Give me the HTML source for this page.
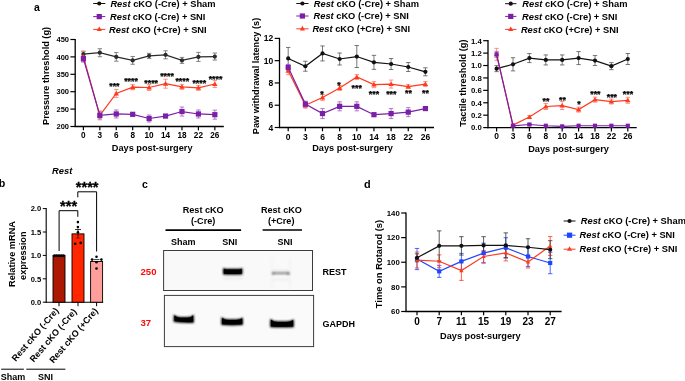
<!DOCTYPE html>
<html><head><meta charset="utf-8"><style>
html,body{margin:0;padding:0;background:#fff;width:685px;height:381px;overflow:hidden;position:relative}
svg text{font-family:"Liberation Sans", sans-serif}
svg{will-change:transform}
</style></head><body>
<svg width="685" height="381" viewBox="0 0 685 381" style="position:absolute;left:0;top:0">
<g font-family='"Liberation Sans", sans-serif'>
<text x="34.00" y="11.30" font-size="10.5" text-anchor="start" font-weight="bold" fill="#000">a</text>
<line x1="75.20" y1="38.90" x2="75.20" y2="127.10" stroke="#000" stroke-width="1.3"/>
<line x1="74.60" y1="126.50" x2="223.80" y2="126.50" stroke="#000" stroke-width="1.3"/>
<line x1="70.40" y1="126.50" x2="75.20" y2="126.50" stroke="#000" stroke-width="1.2"/>
<text x="69.00" y="129.20" font-size="7.5" text-anchor="end" font-weight="bold" fill="#000">200</text>
<line x1="70.40" y1="109.10" x2="75.20" y2="109.10" stroke="#000" stroke-width="1.2"/>
<text x="69.00" y="111.80" font-size="7.5" text-anchor="end" font-weight="bold" fill="#000">250</text>
<line x1="70.40" y1="91.70" x2="75.20" y2="91.70" stroke="#000" stroke-width="1.2"/>
<text x="69.00" y="94.40" font-size="7.5" text-anchor="end" font-weight="bold" fill="#000">300</text>
<line x1="70.40" y1="74.30" x2="75.20" y2="74.30" stroke="#000" stroke-width="1.2"/>
<text x="69.00" y="77.00" font-size="7.5" text-anchor="end" font-weight="bold" fill="#000">350</text>
<line x1="70.40" y1="56.90" x2="75.20" y2="56.90" stroke="#000" stroke-width="1.2"/>
<text x="69.00" y="59.60" font-size="7.5" text-anchor="end" font-weight="bold" fill="#000">400</text>
<line x1="70.40" y1="39.50" x2="75.20" y2="39.50" stroke="#000" stroke-width="1.2"/>
<text x="69.00" y="42.20" font-size="7.5" text-anchor="end" font-weight="bold" fill="#000">450</text>
<line x1="83.40" y1="126.50" x2="83.40" y2="130.30" stroke="#000" stroke-width="1.2"/>
<text x="83.40" y="138.05" font-size="8.2" text-anchor="middle" font-weight="bold" fill="#000">0</text>
<line x1="99.83" y1="126.50" x2="99.83" y2="130.30" stroke="#000" stroke-width="1.2"/>
<text x="99.83" y="138.05" font-size="8.2" text-anchor="middle" font-weight="bold" fill="#000">3</text>
<line x1="116.26" y1="126.50" x2="116.26" y2="130.30" stroke="#000" stroke-width="1.2"/>
<text x="116.26" y="138.05" font-size="8.2" text-anchor="middle" font-weight="bold" fill="#000">6</text>
<line x1="132.69" y1="126.50" x2="132.69" y2="130.30" stroke="#000" stroke-width="1.2"/>
<text x="132.69" y="138.05" font-size="8.2" text-anchor="middle" font-weight="bold" fill="#000">8</text>
<line x1="149.12" y1="126.50" x2="149.12" y2="130.30" stroke="#000" stroke-width="1.2"/>
<text x="149.12" y="138.05" font-size="8.2" text-anchor="middle" font-weight="bold" fill="#000">10</text>
<line x1="165.55" y1="126.50" x2="165.55" y2="130.30" stroke="#000" stroke-width="1.2"/>
<text x="165.55" y="138.05" font-size="8.2" text-anchor="middle" font-weight="bold" fill="#000">14</text>
<line x1="181.98" y1="126.50" x2="181.98" y2="130.30" stroke="#000" stroke-width="1.2"/>
<text x="181.98" y="138.05" font-size="8.2" text-anchor="middle" font-weight="bold" fill="#000">18</text>
<line x1="198.41" y1="126.50" x2="198.41" y2="130.30" stroke="#000" stroke-width="1.2"/>
<text x="198.41" y="138.05" font-size="8.2" text-anchor="middle" font-weight="bold" fill="#000">22</text>
<line x1="214.84" y1="126.50" x2="214.84" y2="130.30" stroke="#000" stroke-width="1.2"/>
<text x="214.84" y="138.05" font-size="8.2" text-anchor="middle" font-weight="bold" fill="#000">26</text>
<line x1="83.40" y1="51.12" x2="83.40" y2="57.12" stroke="#666" stroke-width="0.8"/>
<line x1="81.20" y1="51.12" x2="85.60" y2="51.12" stroke="#666" stroke-width="0.8"/>
<line x1="81.20" y1="57.12" x2="85.60" y2="57.12" stroke="#666" stroke-width="0.8"/>
<line x1="99.83" y1="48.72" x2="99.83" y2="56.72" stroke="#666" stroke-width="0.8"/>
<line x1="97.63" y1="48.72" x2="102.03" y2="48.72" stroke="#666" stroke-width="0.8"/>
<line x1="97.63" y1="56.72" x2="102.03" y2="56.72" stroke="#666" stroke-width="0.8"/>
<line x1="116.26" y1="52.60" x2="116.26" y2="61.20" stroke="#666" stroke-width="0.8"/>
<line x1="114.06" y1="52.60" x2="118.46" y2="52.60" stroke="#666" stroke-width="0.8"/>
<line x1="114.06" y1="61.20" x2="118.46" y2="61.20" stroke="#666" stroke-width="0.8"/>
<line x1="132.69" y1="56.48" x2="132.69" y2="64.28" stroke="#666" stroke-width="0.8"/>
<line x1="130.49" y1="56.48" x2="134.89" y2="56.48" stroke="#666" stroke-width="0.8"/>
<line x1="130.49" y1="64.28" x2="134.89" y2="64.28" stroke="#666" stroke-width="0.8"/>
<line x1="149.12" y1="53.36" x2="149.12" y2="58.36" stroke="#666" stroke-width="0.8"/>
<line x1="146.92" y1="53.36" x2="151.32" y2="53.36" stroke="#666" stroke-width="0.8"/>
<line x1="146.92" y1="58.36" x2="151.32" y2="58.36" stroke="#666" stroke-width="0.8"/>
<line x1="165.55" y1="50.81" x2="165.55" y2="58.81" stroke="#666" stroke-width="0.8"/>
<line x1="163.35" y1="50.81" x2="167.75" y2="50.81" stroke="#666" stroke-width="0.8"/>
<line x1="163.35" y1="58.81" x2="167.75" y2="58.81" stroke="#666" stroke-width="0.8"/>
<line x1="181.98" y1="57.38" x2="181.98" y2="63.38" stroke="#666" stroke-width="0.8"/>
<line x1="179.78" y1="57.38" x2="184.18" y2="57.38" stroke="#666" stroke-width="0.8"/>
<line x1="179.78" y1="63.38" x2="184.18" y2="63.38" stroke="#666" stroke-width="0.8"/>
<line x1="198.41" y1="52.40" x2="198.41" y2="61.40" stroke="#666" stroke-width="0.8"/>
<line x1="196.21" y1="52.40" x2="200.61" y2="52.40" stroke="#666" stroke-width="0.8"/>
<line x1="196.21" y1="61.40" x2="200.61" y2="61.40" stroke="#666" stroke-width="0.8"/>
<line x1="214.84" y1="53.05" x2="214.84" y2="60.05" stroke="#666" stroke-width="0.8"/>
<line x1="212.64" y1="53.05" x2="217.04" y2="53.05" stroke="#666" stroke-width="0.8"/>
<line x1="212.64" y1="60.05" x2="217.04" y2="60.05" stroke="#666" stroke-width="0.8"/>
<line x1="83.40" y1="51.55" x2="83.40" y2="61.55" stroke="#ff7a66" stroke-width="0.8"/>
<line x1="81.20" y1="51.55" x2="85.60" y2="51.55" stroke="#ff7a66" stroke-width="0.8"/>
<line x1="81.20" y1="61.55" x2="85.60" y2="61.55" stroke="#ff7a66" stroke-width="0.8"/>
<line x1="99.83" y1="110.86" x2="99.83" y2="119.86" stroke="#ff7a66" stroke-width="0.8"/>
<line x1="97.63" y1="110.86" x2="102.03" y2="110.86" stroke="#ff7a66" stroke-width="0.8"/>
<line x1="97.63" y1="119.86" x2="102.03" y2="119.86" stroke="#ff7a66" stroke-width="0.8"/>
<line x1="116.26" y1="89.44" x2="116.26" y2="97.44" stroke="#ff7a66" stroke-width="0.8"/>
<line x1="114.06" y1="89.44" x2="118.46" y2="89.44" stroke="#ff7a66" stroke-width="0.8"/>
<line x1="114.06" y1="97.44" x2="118.46" y2="97.44" stroke="#ff7a66" stroke-width="0.8"/>
<line x1="132.69" y1="84.68" x2="132.69" y2="89.68" stroke="#ff7a66" stroke-width="0.8"/>
<line x1="130.49" y1="84.68" x2="134.89" y2="84.68" stroke="#ff7a66" stroke-width="0.8"/>
<line x1="130.49" y1="89.68" x2="134.89" y2="89.68" stroke="#ff7a66" stroke-width="0.8"/>
<line x1="149.12" y1="84.52" x2="149.12" y2="90.52" stroke="#ff7a66" stroke-width="0.8"/>
<line x1="146.92" y1="84.52" x2="151.32" y2="84.52" stroke="#ff7a66" stroke-width="0.8"/>
<line x1="146.92" y1="90.52" x2="151.32" y2="90.52" stroke="#ff7a66" stroke-width="0.8"/>
<line x1="165.55" y1="79.20" x2="165.55" y2="88.20" stroke="#ff7a66" stroke-width="0.8"/>
<line x1="163.35" y1="79.20" x2="167.75" y2="79.20" stroke="#ff7a66" stroke-width="0.8"/>
<line x1="163.35" y1="88.20" x2="167.75" y2="88.20" stroke="#ff7a66" stroke-width="0.8"/>
<line x1="181.98" y1="84.33" x2="181.98" y2="89.33" stroke="#ff7a66" stroke-width="0.8"/>
<line x1="179.78" y1="84.33" x2="184.18" y2="84.33" stroke="#ff7a66" stroke-width="0.8"/>
<line x1="179.78" y1="89.33" x2="184.18" y2="89.33" stroke="#ff7a66" stroke-width="0.8"/>
<line x1="198.41" y1="85.37" x2="198.41" y2="90.37" stroke="#ff7a66" stroke-width="0.8"/>
<line x1="196.21" y1="85.37" x2="200.61" y2="85.37" stroke="#ff7a66" stroke-width="0.8"/>
<line x1="196.21" y1="90.37" x2="200.61" y2="90.37" stroke="#ff7a66" stroke-width="0.8"/>
<line x1="214.84" y1="80.54" x2="214.84" y2="87.54" stroke="#ff7a66" stroke-width="0.8"/>
<line x1="212.64" y1="80.54" x2="217.04" y2="80.54" stroke="#ff7a66" stroke-width="0.8"/>
<line x1="212.64" y1="87.54" x2="217.04" y2="87.54" stroke="#ff7a66" stroke-width="0.8"/>
<line x1="83.40" y1="55.14" x2="83.40" y2="62.14" stroke="#9a5cc0" stroke-width="0.8"/>
<line x1="81.20" y1="55.14" x2="85.60" y2="55.14" stroke="#9a5cc0" stroke-width="0.8"/>
<line x1="81.20" y1="62.14" x2="85.60" y2="62.14" stroke="#9a5cc0" stroke-width="0.8"/>
<line x1="99.83" y1="111.86" x2="99.83" y2="118.86" stroke="#9a5cc0" stroke-width="0.8"/>
<line x1="97.63" y1="111.86" x2="102.03" y2="111.86" stroke="#9a5cc0" stroke-width="0.8"/>
<line x1="97.63" y1="118.86" x2="102.03" y2="118.86" stroke="#9a5cc0" stroke-width="0.8"/>
<line x1="116.26" y1="109.97" x2="116.26" y2="117.97" stroke="#9a5cc0" stroke-width="0.8"/>
<line x1="114.06" y1="109.97" x2="118.46" y2="109.97" stroke="#9a5cc0" stroke-width="0.8"/>
<line x1="114.06" y1="117.97" x2="118.46" y2="117.97" stroke="#9a5cc0" stroke-width="0.8"/>
<line x1="132.69" y1="112.82" x2="132.69" y2="115.82" stroke="#9a5cc0" stroke-width="0.8"/>
<line x1="130.49" y1="112.82" x2="134.89" y2="112.82" stroke="#9a5cc0" stroke-width="0.8"/>
<line x1="130.49" y1="115.82" x2="134.89" y2="115.82" stroke="#9a5cc0" stroke-width="0.8"/>
<line x1="149.12" y1="115.00" x2="149.12" y2="122.00" stroke="#9a5cc0" stroke-width="0.8"/>
<line x1="146.92" y1="115.00" x2="151.32" y2="115.00" stroke="#9a5cc0" stroke-width="0.8"/>
<line x1="146.92" y1="122.00" x2="151.32" y2="122.00" stroke="#9a5cc0" stroke-width="0.8"/>
<line x1="165.55" y1="114.56" x2="165.55" y2="117.56" stroke="#9a5cc0" stroke-width="0.8"/>
<line x1="163.35" y1="114.56" x2="167.75" y2="114.56" stroke="#9a5cc0" stroke-width="0.8"/>
<line x1="163.35" y1="117.56" x2="167.75" y2="117.56" stroke="#9a5cc0" stroke-width="0.8"/>
<line x1="181.98" y1="107.04" x2="181.98" y2="116.04" stroke="#9a5cc0" stroke-width="0.8"/>
<line x1="179.78" y1="107.04" x2="184.18" y2="107.04" stroke="#9a5cc0" stroke-width="0.8"/>
<line x1="179.78" y1="116.04" x2="184.18" y2="116.04" stroke="#9a5cc0" stroke-width="0.8"/>
<line x1="198.41" y1="109.97" x2="198.41" y2="117.97" stroke="#9a5cc0" stroke-width="0.8"/>
<line x1="196.21" y1="109.97" x2="200.61" y2="109.97" stroke="#9a5cc0" stroke-width="0.8"/>
<line x1="196.21" y1="117.97" x2="200.61" y2="117.97" stroke="#9a5cc0" stroke-width="0.8"/>
<line x1="214.84" y1="110.17" x2="214.84" y2="119.17" stroke="#9a5cc0" stroke-width="0.8"/>
<line x1="212.64" y1="110.17" x2="217.04" y2="110.17" stroke="#9a5cc0" stroke-width="0.8"/>
<line x1="212.64" y1="119.17" x2="217.04" y2="119.17" stroke="#9a5cc0" stroke-width="0.8"/>
<polyline points="83.40,54.12 99.83,52.72 116.26,56.90 132.69,60.38 149.12,55.86 165.55,54.81 181.98,60.38 198.41,56.90 214.84,56.55" fill="none" stroke="#2b2b2b" stroke-width="1.2"/>
<circle cx="83.40" cy="54.12" r="2.10" fill="#2b2b2b"/>
<circle cx="99.83" cy="52.72" r="2.10" fill="#2b2b2b"/>
<circle cx="116.26" cy="56.90" r="2.10" fill="#2b2b2b"/>
<circle cx="132.69" cy="60.38" r="2.10" fill="#2b2b2b"/>
<circle cx="149.12" cy="55.86" r="2.10" fill="#2b2b2b"/>
<circle cx="165.55" cy="54.81" r="2.10" fill="#2b2b2b"/>
<circle cx="181.98" cy="60.38" r="2.10" fill="#2b2b2b"/>
<circle cx="198.41" cy="56.90" r="2.10" fill="#2b2b2b"/>
<circle cx="214.84" cy="56.55" r="2.10" fill="#2b2b2b"/>
<polyline points="83.40,56.55 99.83,115.36 116.26,93.44 132.69,87.18 149.12,87.52 165.55,83.70 181.98,86.83 198.41,87.87 214.84,84.04" fill="none" stroke="#FF3A1E" stroke-width="1.2"/>
<polygon points="83.40,53.95 86.13,58.50 80.67,58.50" fill="#FF3A1E"/>
<polygon points="99.83,112.76 102.56,117.31 97.10,117.31" fill="#FF3A1E"/>
<polygon points="116.26,90.84 118.99,95.39 113.53,95.39" fill="#FF3A1E"/>
<polygon points="132.69,84.58 135.42,89.13 129.96,89.13" fill="#FF3A1E"/>
<polygon points="149.12,84.92 151.85,89.47 146.39,89.47" fill="#FF3A1E"/>
<polygon points="165.55,81.10 168.28,85.65 162.82,85.65" fill="#FF3A1E"/>
<polygon points="181.98,84.23 184.71,88.78 179.25,88.78" fill="#FF3A1E"/>
<polygon points="198.41,85.27 201.14,89.82 195.68,89.82" fill="#FF3A1E"/>
<polygon points="214.84,81.44 217.57,85.99 212.11,85.99" fill="#FF3A1E"/>
<polyline points="83.40,58.64 99.83,115.36 116.26,113.97 132.69,114.32 149.12,118.50 165.55,116.06 181.98,111.54 198.41,113.97 214.84,114.67" fill="none" stroke="#7B1FA8" stroke-width="1.2"/>
<rect x="80.80" y="56.04" width="5.20" height="5.20" fill="#7B1FA8"/>
<rect x="97.23" y="112.76" width="5.20" height="5.20" fill="#7B1FA8"/>
<rect x="113.66" y="111.37" width="5.20" height="5.20" fill="#7B1FA8"/>
<rect x="130.09" y="111.72" width="5.20" height="5.20" fill="#7B1FA8"/>
<rect x="146.52" y="115.90" width="5.20" height="5.20" fill="#7B1FA8"/>
<rect x="162.95" y="113.46" width="5.20" height="5.20" fill="#7B1FA8"/>
<rect x="179.38" y="108.94" width="5.20" height="5.20" fill="#7B1FA8"/>
<rect x="195.81" y="111.37" width="5.20" height="5.20" fill="#7B1FA8"/>
<rect x="212.24" y="112.07" width="5.20" height="5.20" fill="#7B1FA8"/>
<text x="49.50" y="75.90" font-size="9.2" text-anchor="middle" font-weight="bold" fill="#000" transform="rotate(-90 49.5 75.9)">Pressure threshold (g)</text>
<text x="152.20" y="151.01" font-size="9.2" text-anchor="middle" font-weight="bold" fill="#000">Days post-surgery</text>
<line x1="93.20" y1="3.50" x2="105.30" y2="3.50" stroke="#111" stroke-width="1.0"/>
<circle cx="99.25" cy="3.50" r="2.10" fill="#111"/>
<text x="110.40" y="6.70" font-size="9.3" text-anchor="start" font-weight="bold" fill="#000"><tspan font-style="italic">Rest</tspan> cKO (-Cre) + Sham</text>
<line x1="93.20" y1="16.60" x2="105.30" y2="16.60" stroke="#7B1FA8" stroke-width="1.0"/>
<rect x="96.65" y="14.00" width="5.20" height="5.20" fill="#7B1FA8"/>
<text x="110.10" y="19.80" font-size="9.3" text-anchor="start" font-weight="bold" fill="#000"><tspan font-style="italic">Rest</tspan> cKO (-Cre) + SNI</text>
<line x1="93.20" y1="29.40" x2="105.30" y2="29.40" stroke="#FF3A1E" stroke-width="1.0"/>
<polygon points="99.25,26.40 101.85,31.00 96.65,31.00" fill="#FF3A1E"/>
<text x="109.00" y="32.60" font-size="9.3" text-anchor="start" font-weight="bold" fill="#000"><tspan font-style="italic">Rest</tspan> cKO (+Cre) + SNI</text>
<text x="114.40" y="89.20" font-size="8.8" text-anchor="middle" font-weight="bold" fill="#000" stroke="#000" stroke-width="0.25">***</text>
<text x="131.00" y="83.70" font-size="8.8" text-anchor="middle" font-weight="bold" fill="#000" stroke="#000" stroke-width="0.25">****</text>
<text x="151.20" y="85.90" font-size="8.8" text-anchor="middle" font-weight="bold" fill="#000" stroke="#000" stroke-width="0.25">****</text>
<text x="167.00" y="78.50" font-size="8.8" text-anchor="middle" font-weight="bold" fill="#000" stroke="#000" stroke-width="0.25">****</text>
<text x="182.30" y="83.80" font-size="8.8" text-anchor="middle" font-weight="bold" fill="#000" stroke="#000" stroke-width="0.25">****</text>
<text x="199.30" y="85.90" font-size="8.8" text-anchor="middle" font-weight="bold" fill="#000" stroke="#000" stroke-width="0.25">****</text>
<text x="215.50" y="81.70" font-size="8.8" text-anchor="middle" font-weight="bold" fill="#000" stroke="#000" stroke-width="0.25">****</text>
<line x1="279.50" y1="37.80" x2="279.50" y2="128.10" stroke="#000" stroke-width="1.3"/>
<line x1="278.90" y1="127.50" x2="434.00" y2="127.50" stroke="#000" stroke-width="1.3"/>
<line x1="274.70" y1="127.50" x2="279.50" y2="127.50" stroke="#000" stroke-width="1.2"/>
<text x="273.30" y="130.56" font-size="8.5" text-anchor="end" font-weight="bold" fill="#000">4</text>
<line x1="274.70" y1="105.22" x2="279.50" y2="105.22" stroke="#000" stroke-width="1.2"/>
<text x="273.30" y="108.28" font-size="8.5" text-anchor="end" font-weight="bold" fill="#000">6</text>
<line x1="274.70" y1="82.95" x2="279.50" y2="82.95" stroke="#000" stroke-width="1.2"/>
<text x="273.30" y="86.01" font-size="8.5" text-anchor="end" font-weight="bold" fill="#000">8</text>
<line x1="274.70" y1="60.67" x2="279.50" y2="60.67" stroke="#000" stroke-width="1.2"/>
<text x="273.30" y="63.73" font-size="8.5" text-anchor="end" font-weight="bold" fill="#000">10</text>
<line x1="274.70" y1="38.40" x2="279.50" y2="38.40" stroke="#000" stroke-width="1.2"/>
<text x="273.30" y="41.46" font-size="8.5" text-anchor="end" font-weight="bold" fill="#000">12</text>
<line x1="288.20" y1="127.50" x2="288.20" y2="131.30" stroke="#000" stroke-width="1.2"/>
<text x="288.20" y="139.96" font-size="8.5" text-anchor="middle" font-weight="bold" fill="#000">0</text>
<line x1="305.35" y1="127.50" x2="305.35" y2="131.30" stroke="#000" stroke-width="1.2"/>
<text x="305.35" y="139.96" font-size="8.5" text-anchor="middle" font-weight="bold" fill="#000">3</text>
<line x1="322.50" y1="127.50" x2="322.50" y2="131.30" stroke="#000" stroke-width="1.2"/>
<text x="322.50" y="139.96" font-size="8.5" text-anchor="middle" font-weight="bold" fill="#000">6</text>
<line x1="339.65" y1="127.50" x2="339.65" y2="131.30" stroke="#000" stroke-width="1.2"/>
<text x="339.65" y="139.96" font-size="8.5" text-anchor="middle" font-weight="bold" fill="#000">8</text>
<line x1="356.80" y1="127.50" x2="356.80" y2="131.30" stroke="#000" stroke-width="1.2"/>
<text x="356.80" y="139.96" font-size="8.5" text-anchor="middle" font-weight="bold" fill="#000">10</text>
<line x1="373.95" y1="127.50" x2="373.95" y2="131.30" stroke="#000" stroke-width="1.2"/>
<text x="373.95" y="139.96" font-size="8.5" text-anchor="middle" font-weight="bold" fill="#000">14</text>
<line x1="391.10" y1="127.50" x2="391.10" y2="131.30" stroke="#000" stroke-width="1.2"/>
<text x="391.10" y="139.96" font-size="8.5" text-anchor="middle" font-weight="bold" fill="#000">18</text>
<line x1="408.25" y1="127.50" x2="408.25" y2="131.30" stroke="#000" stroke-width="1.2"/>
<text x="408.25" y="139.96" font-size="8.5" text-anchor="middle" font-weight="bold" fill="#000">22</text>
<line x1="425.40" y1="127.50" x2="425.40" y2="131.30" stroke="#000" stroke-width="1.2"/>
<text x="425.40" y="139.96" font-size="8.5" text-anchor="middle" font-weight="bold" fill="#000">26</text>
<line x1="288.20" y1="47.45" x2="288.20" y2="69.45" stroke="#555" stroke-width="0.8"/>
<line x1="286.00" y1="47.45" x2="290.40" y2="47.45" stroke="#555" stroke-width="0.8"/>
<line x1="286.00" y1="69.45" x2="290.40" y2="69.45" stroke="#555" stroke-width="0.8"/>
<line x1="305.35" y1="61.24" x2="305.35" y2="71.24" stroke="#555" stroke-width="0.8"/>
<line x1="303.15" y1="61.24" x2="307.55" y2="61.24" stroke="#555" stroke-width="0.8"/>
<line x1="303.15" y1="71.24" x2="307.55" y2="71.24" stroke="#555" stroke-width="0.8"/>
<line x1="322.50" y1="45.94" x2="322.50" y2="60.94" stroke="#555" stroke-width="0.8"/>
<line x1="320.30" y1="45.94" x2="324.70" y2="45.94" stroke="#555" stroke-width="0.8"/>
<line x1="320.30" y1="60.94" x2="324.70" y2="60.94" stroke="#555" stroke-width="0.8"/>
<line x1="339.65" y1="53.00" x2="339.65" y2="65.00" stroke="#555" stroke-width="0.8"/>
<line x1="337.45" y1="53.00" x2="341.85" y2="53.00" stroke="#555" stroke-width="0.8"/>
<line x1="337.45" y1="65.00" x2="341.85" y2="65.00" stroke="#555" stroke-width="0.8"/>
<line x1="356.80" y1="45.55" x2="356.80" y2="67.55" stroke="#555" stroke-width="0.8"/>
<line x1="354.60" y1="45.55" x2="359.00" y2="45.55" stroke="#555" stroke-width="0.8"/>
<line x1="354.60" y1="67.55" x2="359.00" y2="67.55" stroke="#555" stroke-width="0.8"/>
<line x1="373.95" y1="55.35" x2="373.95" y2="69.35" stroke="#555" stroke-width="0.8"/>
<line x1="371.75" y1="55.35" x2="376.15" y2="55.35" stroke="#555" stroke-width="0.8"/>
<line x1="371.75" y1="69.35" x2="376.15" y2="69.35" stroke="#555" stroke-width="0.8"/>
<line x1="391.10" y1="58.52" x2="391.10" y2="69.52" stroke="#555" stroke-width="0.8"/>
<line x1="388.90" y1="58.52" x2="393.30" y2="58.52" stroke="#555" stroke-width="0.8"/>
<line x1="388.90" y1="69.52" x2="393.30" y2="69.52" stroke="#555" stroke-width="0.8"/>
<line x1="408.25" y1="62.52" x2="408.25" y2="71.52" stroke="#555" stroke-width="0.8"/>
<line x1="406.05" y1="62.52" x2="410.45" y2="62.52" stroke="#555" stroke-width="0.8"/>
<line x1="406.05" y1="71.52" x2="410.45" y2="71.52" stroke="#555" stroke-width="0.8"/>
<line x1="425.40" y1="67.81" x2="425.40" y2="75.81" stroke="#555" stroke-width="0.8"/>
<line x1="423.20" y1="67.81" x2="427.60" y2="67.81" stroke="#555" stroke-width="0.8"/>
<line x1="423.20" y1="75.81" x2="427.60" y2="75.81" stroke="#555" stroke-width="0.8"/>
<line x1="288.20" y1="66.70" x2="288.20" y2="74.70" stroke="#ff7a66" stroke-width="0.8"/>
<line x1="286.00" y1="66.70" x2="290.40" y2="66.70" stroke="#ff7a66" stroke-width="0.8"/>
<line x1="286.00" y1="74.70" x2="290.40" y2="74.70" stroke="#ff7a66" stroke-width="0.8"/>
<line x1="305.35" y1="102.22" x2="305.35" y2="108.22" stroke="#ff7a66" stroke-width="0.8"/>
<line x1="303.15" y1="102.22" x2="307.55" y2="102.22" stroke="#ff7a66" stroke-width="0.8"/>
<line x1="303.15" y1="108.22" x2="307.55" y2="108.22" stroke="#ff7a66" stroke-width="0.8"/>
<line x1="322.50" y1="94.43" x2="322.50" y2="100.43" stroke="#ff7a66" stroke-width="0.8"/>
<line x1="320.30" y1="94.43" x2="324.70" y2="94.43" stroke="#ff7a66" stroke-width="0.8"/>
<line x1="320.30" y1="100.43" x2="324.70" y2="100.43" stroke="#ff7a66" stroke-width="0.8"/>
<line x1="339.65" y1="85.46" x2="339.65" y2="90.46" stroke="#ff7a66" stroke-width="0.8"/>
<line x1="337.45" y1="85.46" x2="341.85" y2="85.46" stroke="#ff7a66" stroke-width="0.8"/>
<line x1="337.45" y1="90.46" x2="341.85" y2="90.46" stroke="#ff7a66" stroke-width="0.8"/>
<line x1="356.80" y1="74.55" x2="356.80" y2="79.55" stroke="#ff7a66" stroke-width="0.8"/>
<line x1="354.60" y1="74.55" x2="359.00" y2="74.55" stroke="#ff7a66" stroke-width="0.8"/>
<line x1="354.60" y1="79.55" x2="359.00" y2="79.55" stroke="#ff7a66" stroke-width="0.8"/>
<line x1="373.95" y1="81.62" x2="373.95" y2="87.62" stroke="#ff7a66" stroke-width="0.8"/>
<line x1="371.75" y1="81.62" x2="376.15" y2="81.62" stroke="#ff7a66" stroke-width="0.8"/>
<line x1="371.75" y1="87.62" x2="376.15" y2="87.62" stroke="#ff7a66" stroke-width="0.8"/>
<line x1="391.10" y1="80.06" x2="391.10" y2="88.06" stroke="#ff7a66" stroke-width="0.8"/>
<line x1="388.90" y1="80.06" x2="393.30" y2="80.06" stroke="#ff7a66" stroke-width="0.8"/>
<line x1="388.90" y1="88.06" x2="393.30" y2="88.06" stroke="#ff7a66" stroke-width="0.8"/>
<line x1="408.25" y1="84.63" x2="408.25" y2="88.63" stroke="#ff7a66" stroke-width="0.8"/>
<line x1="406.05" y1="84.63" x2="410.45" y2="84.63" stroke="#ff7a66" stroke-width="0.8"/>
<line x1="406.05" y1="88.63" x2="410.45" y2="88.63" stroke="#ff7a66" stroke-width="0.8"/>
<line x1="425.40" y1="81.56" x2="425.40" y2="86.56" stroke="#ff7a66" stroke-width="0.8"/>
<line x1="423.20" y1="81.56" x2="427.60" y2="81.56" stroke="#ff7a66" stroke-width="0.8"/>
<line x1="423.20" y1="86.56" x2="427.60" y2="86.56" stroke="#ff7a66" stroke-width="0.8"/>
<line x1="288.20" y1="64.36" x2="288.20" y2="70.36" stroke="#9a5cc0" stroke-width="0.8"/>
<line x1="286.00" y1="64.36" x2="290.40" y2="64.36" stroke="#9a5cc0" stroke-width="0.8"/>
<line x1="286.00" y1="70.36" x2="290.40" y2="70.36" stroke="#9a5cc0" stroke-width="0.8"/>
<line x1="305.35" y1="101.11" x2="305.35" y2="107.11" stroke="#9a5cc0" stroke-width="0.8"/>
<line x1="303.15" y1="101.11" x2="307.55" y2="101.11" stroke="#9a5cc0" stroke-width="0.8"/>
<line x1="303.15" y1="107.11" x2="307.55" y2="107.11" stroke="#9a5cc0" stroke-width="0.8"/>
<line x1="322.50" y1="108.58" x2="322.50" y2="118.58" stroke="#9a5cc0" stroke-width="0.8"/>
<line x1="320.30" y1="108.58" x2="324.70" y2="108.58" stroke="#9a5cc0" stroke-width="0.8"/>
<line x1="320.30" y1="118.58" x2="324.70" y2="118.58" stroke="#9a5cc0" stroke-width="0.8"/>
<line x1="339.65" y1="101.84" x2="339.65" y2="110.84" stroke="#9a5cc0" stroke-width="0.8"/>
<line x1="337.45" y1="101.84" x2="341.85" y2="101.84" stroke="#9a5cc0" stroke-width="0.8"/>
<line x1="337.45" y1="110.84" x2="341.85" y2="110.84" stroke="#9a5cc0" stroke-width="0.8"/>
<line x1="356.80" y1="101.84" x2="356.80" y2="110.84" stroke="#9a5cc0" stroke-width="0.8"/>
<line x1="354.60" y1="101.84" x2="359.00" y2="101.84" stroke="#9a5cc0" stroke-width="0.8"/>
<line x1="354.60" y1="110.84" x2="359.00" y2="110.84" stroke="#9a5cc0" stroke-width="0.8"/>
<line x1="373.95" y1="113.19" x2="373.95" y2="116.19" stroke="#9a5cc0" stroke-width="0.8"/>
<line x1="371.75" y1="113.19" x2="376.15" y2="113.19" stroke="#9a5cc0" stroke-width="0.8"/>
<line x1="371.75" y1="116.19" x2="376.15" y2="116.19" stroke="#9a5cc0" stroke-width="0.8"/>
<line x1="391.10" y1="108.58" x2="391.10" y2="118.58" stroke="#9a5cc0" stroke-width="0.8"/>
<line x1="388.90" y1="108.58" x2="393.30" y2="108.58" stroke="#9a5cc0" stroke-width="0.8"/>
<line x1="388.90" y1="118.58" x2="393.30" y2="118.58" stroke="#9a5cc0" stroke-width="0.8"/>
<line x1="408.25" y1="107.63" x2="408.25" y2="116.63" stroke="#9a5cc0" stroke-width="0.8"/>
<line x1="406.05" y1="107.63" x2="410.45" y2="107.63" stroke="#9a5cc0" stroke-width="0.8"/>
<line x1="406.05" y1="116.63" x2="410.45" y2="116.63" stroke="#9a5cc0" stroke-width="0.8"/>
<line x1="425.40" y1="107.07" x2="425.40" y2="110.07" stroke="#9a5cc0" stroke-width="0.8"/>
<line x1="423.20" y1="107.07" x2="427.60" y2="107.07" stroke="#9a5cc0" stroke-width="0.8"/>
<line x1="423.20" y1="110.07" x2="427.60" y2="110.07" stroke="#9a5cc0" stroke-width="0.8"/>
<polyline points="288.20,58.45 305.35,66.24 322.50,53.44 339.65,59.00 356.80,56.55 373.95,62.35 391.10,64.02 408.25,67.02 425.40,71.81" fill="none" stroke="#111" stroke-width="1.2"/>
<circle cx="288.20" cy="58.45" r="2.10" fill="#111"/>
<circle cx="305.35" cy="66.24" r="2.10" fill="#111"/>
<circle cx="322.50" cy="53.44" r="2.10" fill="#111"/>
<circle cx="339.65" cy="59.00" r="2.10" fill="#111"/>
<circle cx="356.80" cy="56.55" r="2.10" fill="#111"/>
<circle cx="373.95" cy="62.35" r="2.10" fill="#111"/>
<circle cx="391.10" cy="64.02" r="2.10" fill="#111"/>
<circle cx="408.25" cy="67.02" r="2.10" fill="#111"/>
<circle cx="425.40" cy="71.81" r="2.10" fill="#111"/>
<polyline points="288.20,70.70 305.35,105.22 322.50,97.43 339.65,87.96 356.80,77.05 373.95,84.62 391.10,84.06 408.25,86.63 425.40,84.06" fill="none" stroke="#FF3A1E" stroke-width="1.2"/>
<polygon points="288.20,68.10 290.93,72.65 285.47,72.65" fill="#FF3A1E"/>
<polygon points="305.35,102.62 308.08,107.17 302.62,107.17" fill="#FF3A1E"/>
<polygon points="322.50,94.83 325.23,99.38 319.77,99.38" fill="#FF3A1E"/>
<polygon points="339.65,85.36 342.38,89.91 336.92,89.91" fill="#FF3A1E"/>
<polygon points="356.80,74.45 359.53,79.00 354.07,79.00" fill="#FF3A1E"/>
<polygon points="373.95,82.02 376.68,86.57 371.22,86.57" fill="#FF3A1E"/>
<polygon points="391.10,81.46 393.83,86.01 388.37,86.01" fill="#FF3A1E"/>
<polygon points="408.25,84.03 410.98,88.58 405.52,88.58" fill="#FF3A1E"/>
<polygon points="425.40,81.46 428.13,86.01 422.67,86.01" fill="#FF3A1E"/>
<polyline points="288.20,67.36 305.35,104.11 322.50,113.58 339.65,106.34 356.80,106.34 373.95,114.69 391.10,113.58 408.25,112.13 425.40,108.57" fill="none" stroke="#7B1FA8" stroke-width="1.2"/>
<rect x="285.60" y="64.76" width="5.20" height="5.20" fill="#7B1FA8"/>
<rect x="302.75" y="101.51" width="5.20" height="5.20" fill="#7B1FA8"/>
<rect x="319.90" y="110.98" width="5.20" height="5.20" fill="#7B1FA8"/>
<rect x="337.05" y="103.74" width="5.20" height="5.20" fill="#7B1FA8"/>
<rect x="354.20" y="103.74" width="5.20" height="5.20" fill="#7B1FA8"/>
<rect x="371.35" y="112.09" width="5.20" height="5.20" fill="#7B1FA8"/>
<rect x="388.50" y="110.98" width="5.20" height="5.20" fill="#7B1FA8"/>
<rect x="405.65" y="109.53" width="5.20" height="5.20" fill="#7B1FA8"/>
<rect x="422.80" y="105.97" width="5.20" height="5.20" fill="#7B1FA8"/>
<text x="258.90" y="76.00" font-size="9.2" text-anchor="middle" font-weight="bold" fill="#000" transform="rotate(-90 258.9 76.0)">Paw withdrawal latency (s)</text>
<text x="352.50" y="151.21" font-size="9.2" text-anchor="middle" font-weight="bold" fill="#000">Days post-surgery</text>
<line x1="296.30" y1="3.50" x2="308.50" y2="3.50" stroke="#111" stroke-width="1.0"/>
<circle cx="302.40" cy="3.50" r="2.10" fill="#111"/>
<text x="313.80" y="6.70" font-size="9.3" text-anchor="start" font-weight="bold" fill="#000"><tspan font-style="italic">Rest</tspan> cKO (-Cre) + Sham</text>
<line x1="296.30" y1="16.00" x2="308.50" y2="16.00" stroke="#7B1FA8" stroke-width="1.0"/>
<rect x="299.80" y="13.40" width="5.20" height="5.20" fill="#7B1FA8"/>
<text x="313.50" y="19.20" font-size="9.3" text-anchor="start" font-weight="bold" fill="#000"><tspan font-style="italic">Rest</tspan> cKO (-Cre) + SNI</text>
<line x1="296.30" y1="28.80" x2="308.50" y2="28.80" stroke="#FF3A1E" stroke-width="1.0"/>
<polygon points="302.40,25.80 305.00,30.40 299.80,30.40" fill="#FF3A1E"/>
<text x="312.40" y="32.00" font-size="9.3" text-anchor="start" font-weight="bold" fill="#000"><tspan font-style="italic">Rest</tspan> cKO (+Cre) + SNI</text>
<text x="321.90" y="96.50" font-size="8.8" text-anchor="middle" font-weight="bold" fill="#000" stroke="#000" stroke-width="0.25">*</text>
<text x="339.00" y="88.20" font-size="8.8" text-anchor="middle" font-weight="bold" fill="#000" stroke="#000" stroke-width="0.25">*</text>
<text x="356.70" y="91.20" font-size="8.8" text-anchor="middle" font-weight="bold" fill="#000" stroke="#000" stroke-width="0.25">***</text>
<text x="374.00" y="97.30" font-size="8.8" text-anchor="middle" font-weight="bold" fill="#000" stroke="#000" stroke-width="0.25">***</text>
<text x="391.30" y="97.30" font-size="8.8" text-anchor="middle" font-weight="bold" fill="#000" stroke="#000" stroke-width="0.25">***</text>
<text x="408.40" y="96.40" font-size="8.8" text-anchor="middle" font-weight="bold" fill="#000" stroke="#000" stroke-width="0.25">**</text>
<text x="425.40" y="95.80" font-size="8.8" text-anchor="middle" font-weight="bold" fill="#000" stroke="#000" stroke-width="0.25">**</text>
<line x1="488.00" y1="40.10" x2="488.00" y2="128.20" stroke="#000" stroke-width="1.3"/>
<line x1="487.40" y1="127.60" x2="636.70" y2="127.60" stroke="#000" stroke-width="1.3"/>
<line x1="483.20" y1="127.60" x2="488.00" y2="127.60" stroke="#000" stroke-width="1.2"/>
<text x="481.80" y="130.41" font-size="7.8" text-anchor="end" font-weight="bold" fill="#000">0.0</text>
<line x1="483.20" y1="115.19" x2="488.00" y2="115.19" stroke="#000" stroke-width="1.2"/>
<text x="481.80" y="117.99" font-size="7.8" text-anchor="end" font-weight="bold" fill="#000">0.2</text>
<line x1="483.20" y1="102.77" x2="488.00" y2="102.77" stroke="#000" stroke-width="1.2"/>
<text x="481.80" y="105.58" font-size="7.8" text-anchor="end" font-weight="bold" fill="#000">0.4</text>
<line x1="483.20" y1="90.36" x2="488.00" y2="90.36" stroke="#000" stroke-width="1.2"/>
<text x="481.80" y="93.17" font-size="7.8" text-anchor="end" font-weight="bold" fill="#000">0.6</text>
<line x1="483.20" y1="77.94" x2="488.00" y2="77.94" stroke="#000" stroke-width="1.2"/>
<text x="481.80" y="80.75" font-size="7.8" text-anchor="end" font-weight="bold" fill="#000">0.8</text>
<line x1="483.20" y1="65.53" x2="488.00" y2="65.53" stroke="#000" stroke-width="1.2"/>
<text x="481.80" y="68.34" font-size="7.8" text-anchor="end" font-weight="bold" fill="#000">1.0</text>
<line x1="483.20" y1="53.11" x2="488.00" y2="53.11" stroke="#000" stroke-width="1.2"/>
<text x="481.80" y="55.92" font-size="7.8" text-anchor="end" font-weight="bold" fill="#000">1.2</text>
<line x1="483.20" y1="40.70" x2="488.00" y2="40.70" stroke="#000" stroke-width="1.2"/>
<text x="481.80" y="43.51" font-size="7.8" text-anchor="end" font-weight="bold" fill="#000">1.4</text>
<line x1="496.60" y1="127.60" x2="496.60" y2="131.40" stroke="#000" stroke-width="1.2"/>
<text x="496.60" y="138.82" font-size="8.4" text-anchor="middle" font-weight="bold" fill="#000">0</text>
<line x1="513.00" y1="127.60" x2="513.00" y2="131.40" stroke="#000" stroke-width="1.2"/>
<text x="513.00" y="138.82" font-size="8.4" text-anchor="middle" font-weight="bold" fill="#000">3</text>
<line x1="529.40" y1="127.60" x2="529.40" y2="131.40" stroke="#000" stroke-width="1.2"/>
<text x="529.40" y="138.82" font-size="8.4" text-anchor="middle" font-weight="bold" fill="#000">6</text>
<line x1="545.80" y1="127.60" x2="545.80" y2="131.40" stroke="#000" stroke-width="1.2"/>
<text x="545.80" y="138.82" font-size="8.4" text-anchor="middle" font-weight="bold" fill="#000">8</text>
<line x1="562.20" y1="127.60" x2="562.20" y2="131.40" stroke="#000" stroke-width="1.2"/>
<text x="562.20" y="138.82" font-size="8.4" text-anchor="middle" font-weight="bold" fill="#000">10</text>
<line x1="578.60" y1="127.60" x2="578.60" y2="131.40" stroke="#000" stroke-width="1.2"/>
<text x="578.60" y="138.82" font-size="8.4" text-anchor="middle" font-weight="bold" fill="#000">14</text>
<line x1="595.00" y1="127.60" x2="595.00" y2="131.40" stroke="#000" stroke-width="1.2"/>
<text x="595.00" y="138.82" font-size="8.4" text-anchor="middle" font-weight="bold" fill="#000">18</text>
<line x1="611.40" y1="127.60" x2="611.40" y2="131.40" stroke="#000" stroke-width="1.2"/>
<text x="611.40" y="138.82" font-size="8.4" text-anchor="middle" font-weight="bold" fill="#000">22</text>
<line x1="627.80" y1="127.60" x2="627.80" y2="131.40" stroke="#000" stroke-width="1.2"/>
<text x="627.80" y="138.82" font-size="8.4" text-anchor="middle" font-weight="bold" fill="#000">26</text>
<line x1="496.60" y1="65.63" x2="496.60" y2="71.63" stroke="#555" stroke-width="0.8"/>
<line x1="494.40" y1="65.63" x2="498.80" y2="65.63" stroke="#555" stroke-width="0.8"/>
<line x1="494.40" y1="71.63" x2="498.80" y2="71.63" stroke="#555" stroke-width="0.8"/>
<line x1="513.00" y1="57.69" x2="513.00" y2="70.89" stroke="#555" stroke-width="0.8"/>
<line x1="510.80" y1="57.69" x2="515.20" y2="57.69" stroke="#555" stroke-width="0.8"/>
<line x1="510.80" y1="70.89" x2="515.20" y2="70.89" stroke="#555" stroke-width="0.8"/>
<line x1="529.40" y1="53.58" x2="529.40" y2="62.58" stroke="#555" stroke-width="0.8"/>
<line x1="527.20" y1="53.58" x2="531.60" y2="53.58" stroke="#555" stroke-width="0.8"/>
<line x1="527.20" y1="62.58" x2="531.60" y2="62.58" stroke="#555" stroke-width="0.8"/>
<line x1="545.80" y1="54.94" x2="545.80" y2="64.94" stroke="#555" stroke-width="0.8"/>
<line x1="543.60" y1="54.94" x2="548.00" y2="54.94" stroke="#555" stroke-width="0.8"/>
<line x1="543.60" y1="64.94" x2="548.00" y2="64.94" stroke="#555" stroke-width="0.8"/>
<line x1="562.20" y1="54.94" x2="562.20" y2="64.94" stroke="#555" stroke-width="0.8"/>
<line x1="560.00" y1="54.94" x2="564.40" y2="54.94" stroke="#555" stroke-width="0.8"/>
<line x1="560.00" y1="64.94" x2="564.40" y2="64.94" stroke="#555" stroke-width="0.8"/>
<line x1="578.60" y1="51.58" x2="578.60" y2="64.58" stroke="#555" stroke-width="0.8"/>
<line x1="576.40" y1="51.58" x2="580.80" y2="51.58" stroke="#555" stroke-width="0.8"/>
<line x1="576.40" y1="64.58" x2="580.80" y2="64.58" stroke="#555" stroke-width="0.8"/>
<line x1="595.00" y1="55.56" x2="595.00" y2="65.56" stroke="#555" stroke-width="0.8"/>
<line x1="592.80" y1="55.56" x2="597.20" y2="55.56" stroke="#555" stroke-width="0.8"/>
<line x1="592.80" y1="65.56" x2="597.20" y2="65.56" stroke="#555" stroke-width="0.8"/>
<line x1="611.40" y1="62.65" x2="611.40" y2="69.65" stroke="#555" stroke-width="0.8"/>
<line x1="609.20" y1="62.65" x2="613.60" y2="62.65" stroke="#555" stroke-width="0.8"/>
<line x1="609.20" y1="69.65" x2="613.60" y2="69.65" stroke="#555" stroke-width="0.8"/>
<line x1="627.80" y1="53.51" x2="627.80" y2="64.51" stroke="#555" stroke-width="0.8"/>
<line x1="625.60" y1="53.51" x2="630.00" y2="53.51" stroke="#555" stroke-width="0.8"/>
<line x1="625.60" y1="64.51" x2="630.00" y2="64.51" stroke="#555" stroke-width="0.8"/>
<line x1="496.60" y1="48.36" x2="496.60" y2="60.36" stroke="#ff7a66" stroke-width="0.8"/>
<line x1="494.40" y1="48.36" x2="498.80" y2="48.36" stroke="#ff7a66" stroke-width="0.8"/>
<line x1="494.40" y1="60.36" x2="498.80" y2="60.36" stroke="#ff7a66" stroke-width="0.8"/>
<line x1="513.00" y1="124.12" x2="513.00" y2="126.12" stroke="#ff7a66" stroke-width="0.8"/>
<line x1="510.80" y1="124.12" x2="515.20" y2="124.12" stroke="#ff7a66" stroke-width="0.8"/>
<line x1="510.80" y1="126.12" x2="515.20" y2="126.12" stroke="#ff7a66" stroke-width="0.8"/>
<line x1="529.40" y1="115.55" x2="529.40" y2="118.55" stroke="#ff7a66" stroke-width="0.8"/>
<line x1="527.20" y1="115.55" x2="531.60" y2="115.55" stroke="#ff7a66" stroke-width="0.8"/>
<line x1="527.20" y1="118.55" x2="531.60" y2="118.55" stroke="#ff7a66" stroke-width="0.8"/>
<line x1="545.80" y1="103.50" x2="545.80" y2="109.50" stroke="#ff7a66" stroke-width="0.8"/>
<line x1="543.60" y1="103.50" x2="548.00" y2="103.50" stroke="#ff7a66" stroke-width="0.8"/>
<line x1="543.60" y1="109.50" x2="548.00" y2="109.50" stroke="#ff7a66" stroke-width="0.8"/>
<line x1="562.20" y1="101.56" x2="562.20" y2="109.56" stroke="#ff7a66" stroke-width="0.8"/>
<line x1="560.00" y1="101.56" x2="564.40" y2="101.56" stroke="#ff7a66" stroke-width="0.8"/>
<line x1="560.00" y1="109.56" x2="564.40" y2="109.56" stroke="#ff7a66" stroke-width="0.8"/>
<line x1="578.60" y1="107.10" x2="578.60" y2="112.10" stroke="#ff7a66" stroke-width="0.8"/>
<line x1="576.40" y1="107.10" x2="580.80" y2="107.10" stroke="#ff7a66" stroke-width="0.8"/>
<line x1="576.40" y1="112.10" x2="580.80" y2="112.10" stroke="#ff7a66" stroke-width="0.8"/>
<line x1="595.00" y1="97.17" x2="595.00" y2="102.17" stroke="#ff7a66" stroke-width="0.8"/>
<line x1="592.80" y1="97.17" x2="597.20" y2="97.17" stroke="#ff7a66" stroke-width="0.8"/>
<line x1="592.80" y1="102.17" x2="597.20" y2="102.17" stroke="#ff7a66" stroke-width="0.8"/>
<line x1="611.40" y1="99.03" x2="611.40" y2="104.03" stroke="#ff7a66" stroke-width="0.8"/>
<line x1="609.20" y1="99.03" x2="613.60" y2="99.03" stroke="#ff7a66" stroke-width="0.8"/>
<line x1="609.20" y1="104.03" x2="613.60" y2="104.03" stroke="#ff7a66" stroke-width="0.8"/>
<line x1="627.80" y1="97.29" x2="627.80" y2="103.29" stroke="#ff7a66" stroke-width="0.8"/>
<line x1="625.60" y1="97.29" x2="630.00" y2="97.29" stroke="#ff7a66" stroke-width="0.8"/>
<line x1="625.60" y1="103.29" x2="630.00" y2="103.29" stroke="#ff7a66" stroke-width="0.8"/>
<line x1="496.60" y1="51.36" x2="496.60" y2="57.36" stroke="#9a5cc0" stroke-width="0.8"/>
<line x1="494.40" y1="51.36" x2="498.80" y2="51.36" stroke="#9a5cc0" stroke-width="0.8"/>
<line x1="494.40" y1="57.36" x2="498.80" y2="57.36" stroke="#9a5cc0" stroke-width="0.8"/>
<line x1="513.00" y1="124.74" x2="513.00" y2="126.74" stroke="#9a5cc0" stroke-width="0.8"/>
<line x1="510.80" y1="124.74" x2="515.20" y2="124.74" stroke="#9a5cc0" stroke-width="0.8"/>
<line x1="510.80" y1="126.74" x2="515.20" y2="126.74" stroke="#9a5cc0" stroke-width="0.8"/>
<line x1="529.40" y1="123.50" x2="529.40" y2="125.50" stroke="#9a5cc0" stroke-width="0.8"/>
<line x1="527.20" y1="123.50" x2="531.60" y2="123.50" stroke="#9a5cc0" stroke-width="0.8"/>
<line x1="527.20" y1="125.50" x2="531.60" y2="125.50" stroke="#9a5cc0" stroke-width="0.8"/>
<polyline points="496.60,68.63 513.00,64.29 529.40,58.08 545.80,59.94 562.20,59.94 578.60,58.08 595.00,60.56 611.40,66.15 627.80,59.01" fill="none" stroke="#111" stroke-width="1.2"/>
<circle cx="496.60" cy="68.63" r="2.10" fill="#111"/>
<circle cx="513.00" cy="64.29" r="2.10" fill="#111"/>
<circle cx="529.40" cy="58.08" r="2.10" fill="#111"/>
<circle cx="545.80" cy="59.94" r="2.10" fill="#111"/>
<circle cx="562.20" cy="59.94" r="2.10" fill="#111"/>
<circle cx="578.60" cy="58.08" r="2.10" fill="#111"/>
<circle cx="595.00" cy="60.56" r="2.10" fill="#111"/>
<circle cx="611.40" cy="66.15" r="2.10" fill="#111"/>
<circle cx="627.80" cy="59.01" r="2.10" fill="#111"/>
<polyline points="496.60,54.36 513.00,125.12 529.40,117.05 545.80,106.50 562.20,105.56 578.60,109.60 595.00,99.67 611.40,101.53 627.80,100.29" fill="none" stroke="#FF3A1E" stroke-width="1.2"/>
<polygon points="496.60,51.76 499.33,56.31 493.87,56.31" fill="#FF3A1E"/>
<polygon points="513.00,122.52 515.73,127.07 510.27,127.07" fill="#FF3A1E"/>
<polygon points="529.40,114.45 532.13,119.00 526.67,119.00" fill="#FF3A1E"/>
<polygon points="545.80,103.90 548.53,108.45 543.07,108.45" fill="#FF3A1E"/>
<polygon points="562.20,102.96 564.93,107.51 559.47,107.51" fill="#FF3A1E"/>
<polygon points="578.60,107.00 581.33,111.55 575.87,111.55" fill="#FF3A1E"/>
<polygon points="595.00,97.07 597.73,101.62 592.27,101.62" fill="#FF3A1E"/>
<polygon points="611.40,98.93 614.13,103.48 608.67,103.48" fill="#FF3A1E"/>
<polygon points="627.80,97.69 630.53,102.24 625.07,102.24" fill="#FF3A1E"/>
<polyline points="496.60,54.36 513.00,125.74 529.40,124.50 545.80,125.74 562.20,126.36 578.60,125.74 595.00,125.74 611.40,125.74 627.80,125.74" fill="none" stroke="#7B1FA8" stroke-width="1.2"/>
<rect x="494.52" y="52.28" width="4.16" height="4.16" fill="#7B1FA8"/>
<rect x="510.92" y="123.66" width="4.16" height="4.16" fill="#7B1FA8"/>
<rect x="527.32" y="122.42" width="4.16" height="4.16" fill="#7B1FA8"/>
<rect x="543.72" y="123.66" width="4.16" height="4.16" fill="#7B1FA8"/>
<rect x="560.12" y="124.28" width="4.16" height="4.16" fill="#7B1FA8"/>
<rect x="576.52" y="123.66" width="4.16" height="4.16" fill="#7B1FA8"/>
<rect x="592.92" y="123.66" width="4.16" height="4.16" fill="#7B1FA8"/>
<rect x="609.32" y="123.66" width="4.16" height="4.16" fill="#7B1FA8"/>
<rect x="625.72" y="123.66" width="4.16" height="4.16" fill="#7B1FA8"/>
<text x="466.30" y="83.10" font-size="9.2" text-anchor="middle" font-weight="bold" fill="#000" transform="rotate(-90 466.3 83.1)">Tactile threshold (g)</text>
<text x="568.50" y="151.71" font-size="9.2" text-anchor="middle" font-weight="bold" fill="#000">Days post-surgery</text>
<line x1="505.10" y1="3.70" x2="516.40" y2="3.70" stroke="#111" stroke-width="1.0"/>
<circle cx="510.75" cy="3.70" r="2.10" fill="#111"/>
<text x="522.30" y="6.90" font-size="9.3" text-anchor="start" font-weight="bold" fill="#000"><tspan font-style="italic">Rest</tspan> cKO (-Cre) + Sham</text>
<line x1="505.10" y1="16.40" x2="516.40" y2="16.40" stroke="#7B1FA8" stroke-width="1.0"/>
<rect x="508.15" y="13.80" width="5.20" height="5.20" fill="#7B1FA8"/>
<text x="522.00" y="19.60" font-size="9.3" text-anchor="start" font-weight="bold" fill="#000"><tspan font-style="italic">Rest</tspan> cKO (-Cre) + SNI</text>
<line x1="505.10" y1="29.40" x2="516.40" y2="29.40" stroke="#FF3A1E" stroke-width="1.0"/>
<polygon points="510.75,26.40 513.35,31.00 508.15,31.00" fill="#FF3A1E"/>
<text x="520.90" y="32.60" font-size="9.3" text-anchor="start" font-weight="bold" fill="#000"><tspan font-style="italic">Rest</tspan> cKO (+Cre) + SNI</text>
<text x="546.00" y="103.80" font-size="8.8" text-anchor="middle" font-weight="bold" fill="#000" stroke="#000" stroke-width="0.25">**</text>
<text x="562.40" y="102.90" font-size="8.8" text-anchor="middle" font-weight="bold" fill="#000" stroke="#000" stroke-width="0.25">**</text>
<text x="579.00" y="107.20" font-size="8.8" text-anchor="middle" font-weight="bold" fill="#000" stroke="#000" stroke-width="0.25">*</text>
<text x="595.40" y="97.10" font-size="8.8" text-anchor="middle" font-weight="bold" fill="#000" stroke="#000" stroke-width="0.25">***</text>
<text x="611.90" y="100.00" font-size="8.8" text-anchor="middle" font-weight="bold" fill="#000" stroke="#000" stroke-width="0.25">***</text>
<text x="628.00" y="97.10" font-size="8.8" text-anchor="middle" font-weight="bold" fill="#000" stroke="#000" stroke-width="0.25">***</text>
<text x="-1.30" y="187.30" font-size="10.7" text-anchor="start" font-weight="bold" fill="#000">b</text>
<text x="52.10" y="173.60" font-size="9.3" text-anchor="start" font-weight="bold" fill="#000" font-style="italic">Rest</text>
<line x1="46.20" y1="208.00" x2="46.20" y2="302.80" stroke="#000" stroke-width="1.1"/>
<line x1="45.60" y1="302.20" x2="103.20" y2="302.20" stroke="#000" stroke-width="1.1"/>
<line x1="42.80" y1="302.20" x2="46.20" y2="302.20" stroke="#000" stroke-width="1.0"/>
<text x="41.20" y="304.90" font-size="7.6" text-anchor="end" font-weight="bold" fill="#000">0.0</text>
<line x1="42.80" y1="278.80" x2="46.20" y2="278.80" stroke="#000" stroke-width="1.0"/>
<text x="41.20" y="281.50" font-size="7.6" text-anchor="end" font-weight="bold" fill="#000">0.5</text>
<line x1="42.80" y1="255.40" x2="46.20" y2="255.40" stroke="#000" stroke-width="1.0"/>
<text x="41.20" y="258.10" font-size="7.6" text-anchor="end" font-weight="bold" fill="#000">1.0</text>
<line x1="42.80" y1="232.00" x2="46.20" y2="232.00" stroke="#000" stroke-width="1.0"/>
<text x="41.20" y="234.70" font-size="7.6" text-anchor="end" font-weight="bold" fill="#000">1.5</text>
<line x1="42.80" y1="208.60" x2="46.20" y2="208.60" stroke="#000" stroke-width="1.0"/>
<text x="41.20" y="211.30" font-size="7.6" text-anchor="end" font-weight="bold" fill="#000">2.0</text>
<rect x="53.00" y="255.40" width="12" height="46.80" fill="#AD1800" stroke="#000" stroke-width="0.9"/>
<line x1="59.00" y1="302.20" x2="59.00" y2="306.20" stroke="#000" stroke-width="1.0"/>
<rect x="72.00" y="233.87" width="12" height="68.33" fill="#FF2600" stroke="#000" stroke-width="0.9"/>
<line x1="78.00" y1="302.20" x2="78.00" y2="306.20" stroke="#000" stroke-width="1.0"/>
<rect x="90.60" y="261.48" width="12" height="40.72" fill="#FF9E9A" stroke="#000" stroke-width="0.9"/>
<line x1="96.60" y1="302.20" x2="96.60" y2="306.20" stroke="#000" stroke-width="1.0"/>
<circle cx="54.60" cy="255.70" r="1.45" fill="#000"/>
<circle cx="56.80" cy="255.70" r="1.45" fill="#000"/>
<circle cx="59.00" cy="255.70" r="1.45" fill="#000"/>
<circle cx="61.20" cy="255.70" r="1.45" fill="#000"/>
<circle cx="63.40" cy="255.70" r="1.45" fill="#000"/>
<circle cx="77.9" cy="222.1" r="1.3" fill="#000"/>
<circle cx="77.9" cy="227.1" r="1.3" fill="#000"/>
<circle cx="77.9" cy="232.3" r="1.3" fill="#000"/>
<circle cx="75.2" cy="243.7" r="1.3" fill="#000"/>
<circle cx="80.7" cy="242.9" r="1.3" fill="#000"/>
<line x1="75.00" y1="229.50" x2="81.00" y2="229.50" stroke="#000" stroke-width="0.8"/>
<line x1="78.00" y1="229.50" x2="78.00" y2="238.30" stroke="#000" stroke-width="0.8"/>
<line x1="75.50" y1="238.30" x2="80.50" y2="238.30" stroke="#a00" stroke-width="0.6"/>
<circle cx="96.5" cy="256.7" r="1.3" fill="#000"/>
<circle cx="92.1" cy="259.6" r="1.3" fill="#000"/>
<circle cx="101.4" cy="259.6" r="1.3" fill="#000"/>
<circle cx="96.5" cy="262.2" r="1.3" fill="#000"/>
<circle cx="96.5" cy="268.5" r="1.3" fill="#000"/>
<line x1="93.50" y1="259.60" x2="99.50" y2="259.60" stroke="#000" stroke-width="0.8"/>
<polyline points="59.1,251 59.1,210.7 77.8,210.7 77.8,216.8" fill="none" stroke="#000" stroke-width="1.0"/>
<polyline points="77.8,197.3 77.8,191.8 96.6,191.8 96.6,251.5" fill="none" stroke="#000" stroke-width="1.0"/>
<text x="68.60" y="211.10" font-size="14.6" text-anchor="middle" font-weight="bold" fill="#000" stroke="#000" stroke-width="0.3">***</text>
<text x="87.20" y="192.20" font-size="14.6" text-anchor="middle" font-weight="bold" fill="#000" stroke="#000" stroke-width="0.3">****</text>
<text x="15.40" y="254.00" font-size="9.2" text-anchor="middle" font-weight="bold" fill="#000" transform="rotate(-90 15.4 254.0)">Relative mRNA</text>
<text x="25.90" y="255.70" font-size="9.2" text-anchor="middle" font-weight="bold" fill="#000" transform="rotate(-90 25.9 255.7)">expression</text>
<text x="59.20" y="311.00" font-size="9.0" text-anchor="end" font-weight="bold" fill="#000" transform="rotate(-49.5 59.2 311.0)">Rest cKO (-Cre)</text>
<text x="77.30" y="311.90" font-size="9.0" text-anchor="end" font-weight="bold" fill="#000" transform="rotate(-49.5 77.3 311.9)">Rest cKO (-Cre)</text>
<text x="98.40" y="311.10" font-size="9.0" text-anchor="end" font-weight="bold" fill="#000" transform="rotate(-49.5 98.39999999999999 311.09999999999997)">Rest cKO (+Cre)</text>
<line x1="1.20" y1="369.20" x2="23.90" y2="369.20" stroke="#000" stroke-width="1.0"/>
<line x1="26.30" y1="369.20" x2="65.40" y2="369.20" stroke="#000" stroke-width="1.0"/>
<text x="13.00" y="380.40" font-size="9.0" text-anchor="middle" font-weight="bold" fill="#000">Sham</text>
<text x="45.60" y="379.80" font-size="9.0" text-anchor="middle" font-weight="bold" fill="#000">SNI</text>
<text x="142.00" y="187.80" font-size="10.5" text-anchor="start" font-weight="bold" fill="#000">c</text>
<text x="203.20" y="213.00" font-size="9.1" text-anchor="middle" font-weight="bold" fill="#000">Rest cKO</text>
<text x="203.20" y="224.20" font-size="9.1" text-anchor="middle" font-weight="bold" fill="#000">(-Cre)</text>
<text x="281.40" y="213.00" font-size="9.1" text-anchor="middle" font-weight="bold" fill="#000">Rest cKO</text>
<text x="281.20" y="224.20" font-size="9.1" text-anchor="middle" font-weight="bold" fill="#000">(+Cre)</text>
<line x1="165.50" y1="230.20" x2="241.10" y2="230.20" stroke="#000" stroke-width="1.7"/>
<line x1="262.60" y1="230.00" x2="302.00" y2="230.00" stroke="#000" stroke-width="1.7"/>
<text x="183.30" y="244.90" font-size="9.0" text-anchor="middle" font-weight="bold" fill="#000">Sham</text>
<text x="229.80" y="245.20" font-size="9.0" text-anchor="middle" font-weight="bold" fill="#000">SNI</text>
<text x="284.90" y="245.20" font-size="9.0" text-anchor="middle" font-weight="bold" fill="#000">SNI</text>
<rect x="163.6" y="250.5" width="148.9" height="40.0" fill="#f9f9f9" stroke="#3c3c3c" stroke-width="1.0"/>
<rect x="164.4" y="295.4" width="149.2" height="51.2" fill="#fafafa" stroke="#3c3c3c" stroke-width="1.0"/>
<defs><filter id="bl" x="-50%" y="-50%" width="200%" height="200%" color-interpolation-filters="sRGB"><feGaussianBlur stdDeviation="0.9"/></filter></defs>
<g filter="url(#bl)">
<path d="M223.00,267.90 Q225.34,268.80 228.85,268.80 L236.65,268.80 Q240.16,268.80 242.50,267.90 L242.50,274.50 Q232.75,275.10 223.00,274.50 Z" fill="#000"/>
<path d="M173.60,314.50 Q176.04,316.90 179.69,316.90 L187.81,316.90 Q191.46,316.90 193.90,314.40 L193.90,322.90 Q183.75,323.50 173.60,321.90 Z" fill="#000"/>
<path d="M221.30,316.90 Q223.90,319.20 227.81,319.20 L236.49,319.20 Q240.40,319.20 243.00,317.50 L243.00,325.10 Q232.15,325.70 221.30,325.10 Z" fill="#000"/>
<path d="M270.10,318.80 Q272.96,321.30 277.24,321.30 L286.76,321.30 Q291.04,321.30 293.90,319.20 L293.90,327.20 Q282.00,327.80 270.10,327.20 Z" fill="#000"/>
<rect x="271.8" y="269.8" width="17.8" height="3.2" fill="#e9e9e9"/>
<rect x="271.8" y="272.6" width="17.8" height="1.5" fill="#6a6a6a"/>
<rect x="271.8" y="272.4" width="2.2" height="2" fill="#2a2a2a"/>
<rect x="287.4" y="272.6" width="2.2" height="2" fill="#3a3a3a"/>
<rect x="272.0" y="279.2" width="17.5" height="1.1" fill="#e6e6e6"/>
<rect x="223.3" y="277.6" width="19" height="1.2" fill="#e0e0e0"/>
<rect x="271.5" y="258" width="1" height="31" fill="#efefef"/>
<rect x="289.5" y="258" width="1" height="31" fill="#efefef"/>
</g>
<path d="M223.80,268.70 Q225.95,269.60 229.17,269.60 L236.33,269.60 Q239.55,269.60 241.70,268.70 L241.70,273.70 Q232.75,274.30 223.80,273.70 Z" fill="#000"/>
<path d="M174.40,315.30 Q176.64,317.70 180.01,317.70 L187.49,317.70 Q190.86,317.70 193.10,315.20 L193.10,322.10 Q183.75,322.70 174.40,321.10 Z" fill="#000"/>
<path d="M222.10,317.70 Q224.51,320.00 228.13,320.00 L236.17,320.00 Q239.79,320.00 242.20,318.30 L242.20,324.30 Q232.15,324.90 222.10,324.30 Z" fill="#000"/>
<path d="M270.90,319.60 Q273.56,322.10 277.56,322.10 L286.44,322.10 Q290.44,322.10 293.10,320.00 L293.10,326.40 Q282.00,327.00 270.90,326.40 Z" fill="#000"/>
<text x="140.50" y="275.00" font-size="9.6" text-anchor="start" font-weight="bold" fill="#FF0A0A">250</text>
<text x="140.50" y="326.00" font-size="9.6" text-anchor="start" font-weight="bold" fill="#FF0A0A">37</text>
<text x="322.40" y="274.90" font-size="9.0" text-anchor="start" font-weight="bold" fill="#000">REST</text>
<text x="322.40" y="327.20" font-size="9.0" text-anchor="start" font-weight="bold" fill="#000">GAPDH</text>
<text x="364.10" y="187.60" font-size="10.9" text-anchor="start" font-weight="bold" fill="#000">d</text>
<line x1="406.00" y1="212.40" x2="406.00" y2="312.10" stroke="#000" stroke-width="1.3"/>
<line x1="405.40" y1="311.50" x2="561.60" y2="311.50" stroke="#000" stroke-width="1.3"/>
<line x1="401.20" y1="311.50" x2="406.00" y2="311.50" stroke="#000" stroke-width="1.2"/>
<text x="399.80" y="314.31" font-size="7.8" text-anchor="end" font-weight="bold" fill="#000">60</text>
<line x1="401.20" y1="286.88" x2="406.00" y2="286.88" stroke="#000" stroke-width="1.2"/>
<text x="399.80" y="289.68" font-size="7.8" text-anchor="end" font-weight="bold" fill="#000">80</text>
<line x1="401.20" y1="262.25" x2="406.00" y2="262.25" stroke="#000" stroke-width="1.2"/>
<text x="399.80" y="265.06" font-size="7.8" text-anchor="end" font-weight="bold" fill="#000">100</text>
<line x1="401.20" y1="237.62" x2="406.00" y2="237.62" stroke="#000" stroke-width="1.2"/>
<text x="399.80" y="240.43" font-size="7.8" text-anchor="end" font-weight="bold" fill="#000">120</text>
<line x1="401.20" y1="213.00" x2="406.00" y2="213.00" stroke="#000" stroke-width="1.2"/>
<text x="399.80" y="215.81" font-size="7.8" text-anchor="end" font-weight="bold" fill="#000">140</text>
<line x1="417.00" y1="311.50" x2="417.00" y2="315.30" stroke="#000" stroke-width="1.2"/>
<text x="417.00" y="324.80" font-size="10.0" text-anchor="middle" font-weight="bold" fill="#000">0</text>
<line x1="439.20" y1="311.50" x2="439.20" y2="315.30" stroke="#000" stroke-width="1.2"/>
<text x="439.20" y="324.80" font-size="10.0" text-anchor="middle" font-weight="bold" fill="#000">7</text>
<line x1="461.40" y1="311.50" x2="461.40" y2="315.30" stroke="#000" stroke-width="1.2"/>
<text x="461.40" y="324.80" font-size="10.0" text-anchor="middle" font-weight="bold" fill="#000">11</text>
<line x1="483.60" y1="311.50" x2="483.60" y2="315.30" stroke="#000" stroke-width="1.2"/>
<text x="483.60" y="324.80" font-size="10.0" text-anchor="middle" font-weight="bold" fill="#000">15</text>
<line x1="505.80" y1="311.50" x2="505.80" y2="315.30" stroke="#000" stroke-width="1.2"/>
<text x="505.80" y="324.80" font-size="10.0" text-anchor="middle" font-weight="bold" fill="#000">19</text>
<line x1="528.00" y1="311.50" x2="528.00" y2="315.30" stroke="#000" stroke-width="1.2"/>
<text x="528.00" y="324.80" font-size="10.0" text-anchor="middle" font-weight="bold" fill="#000">23</text>
<line x1="550.20" y1="311.50" x2="550.20" y2="315.30" stroke="#000" stroke-width="1.2"/>
<text x="550.20" y="324.80" font-size="10.0" text-anchor="middle" font-weight="bold" fill="#000">27</text>
<line x1="417.00" y1="248.45" x2="417.00" y2="269.65" stroke="#1E46FF" stroke-width="0.8"/>
<line x1="414.80" y1="248.45" x2="419.20" y2="248.45" stroke="#1E46FF" stroke-width="0.8"/>
<line x1="414.80" y1="269.65" x2="419.20" y2="269.65" stroke="#1E46FF" stroke-width="0.8"/>
<line x1="439.20" y1="265.36" x2="439.20" y2="277.36" stroke="#1E46FF" stroke-width="0.8"/>
<line x1="437.00" y1="265.36" x2="441.40" y2="265.36" stroke="#1E46FF" stroke-width="0.8"/>
<line x1="437.00" y1="277.36" x2="441.40" y2="277.36" stroke="#1E46FF" stroke-width="0.8"/>
<line x1="461.40" y1="253.39" x2="461.40" y2="269.39" stroke="#1E46FF" stroke-width="0.8"/>
<line x1="459.20" y1="253.39" x2="463.60" y2="253.39" stroke="#1E46FF" stroke-width="0.8"/>
<line x1="459.20" y1="269.39" x2="463.60" y2="269.39" stroke="#1E46FF" stroke-width="0.8"/>
<line x1="483.60" y1="243.14" x2="483.60" y2="263.14" stroke="#1E46FF" stroke-width="0.8"/>
<line x1="481.40" y1="243.14" x2="485.80" y2="243.14" stroke="#1E46FF" stroke-width="0.8"/>
<line x1="481.40" y1="263.14" x2="485.80" y2="263.14" stroke="#1E46FF" stroke-width="0.8"/>
<line x1="505.80" y1="237.72" x2="505.80" y2="257.72" stroke="#1E46FF" stroke-width="0.8"/>
<line x1="503.60" y1="237.72" x2="508.00" y2="237.72" stroke="#1E46FF" stroke-width="0.8"/>
<line x1="503.60" y1="257.72" x2="508.00" y2="257.72" stroke="#1E46FF" stroke-width="0.8"/>
<line x1="528.00" y1="246.46" x2="528.00" y2="266.46" stroke="#1E46FF" stroke-width="0.8"/>
<line x1="525.80" y1="246.46" x2="530.20" y2="246.46" stroke="#1E46FF" stroke-width="0.8"/>
<line x1="525.80" y1="266.46" x2="530.20" y2="266.46" stroke="#1E46FF" stroke-width="0.8"/>
<line x1="550.20" y1="252.29" x2="550.20" y2="273.69" stroke="#1E46FF" stroke-width="0.8"/>
<line x1="548.00" y1="252.29" x2="552.40" y2="252.29" stroke="#1E46FF" stroke-width="0.8"/>
<line x1="548.00" y1="273.69" x2="552.40" y2="273.69" stroke="#1E46FF" stroke-width="0.8"/>
<line x1="417.00" y1="252.03" x2="417.00" y2="268.03" stroke="#FF3A1E" stroke-width="0.8"/>
<line x1="414.80" y1="252.03" x2="419.20" y2="252.03" stroke="#FF3A1E" stroke-width="0.8"/>
<line x1="414.80" y1="268.03" x2="419.20" y2="268.03" stroke="#FF3A1E" stroke-width="0.8"/>
<line x1="439.20" y1="254.86" x2="439.20" y2="267.66" stroke="#FF3A1E" stroke-width="0.8"/>
<line x1="437.00" y1="254.86" x2="441.40" y2="254.86" stroke="#FF3A1E" stroke-width="0.8"/>
<line x1="437.00" y1="267.66" x2="441.40" y2="267.66" stroke="#FF3A1E" stroke-width="0.8"/>
<line x1="461.40" y1="260.82" x2="461.40" y2="280.42" stroke="#FF3A1E" stroke-width="0.8"/>
<line x1="459.20" y1="260.82" x2="463.60" y2="260.82" stroke="#FF3A1E" stroke-width="0.8"/>
<line x1="459.20" y1="280.42" x2="463.60" y2="280.42" stroke="#FF3A1E" stroke-width="0.8"/>
<line x1="483.60" y1="250.46" x2="483.60" y2="262.46" stroke="#FF3A1E" stroke-width="0.8"/>
<line x1="481.40" y1="250.46" x2="485.80" y2="250.46" stroke="#FF3A1E" stroke-width="0.8"/>
<line x1="481.40" y1="262.46" x2="485.80" y2="262.46" stroke="#FF3A1E" stroke-width="0.8"/>
<line x1="505.80" y1="244.89" x2="505.80" y2="260.89" stroke="#FF3A1E" stroke-width="0.8"/>
<line x1="503.60" y1="244.89" x2="508.00" y2="244.89" stroke="#FF3A1E" stroke-width="0.8"/>
<line x1="503.60" y1="260.89" x2="508.00" y2="260.89" stroke="#FF3A1E" stroke-width="0.8"/>
<line x1="528.00" y1="256.00" x2="528.00" y2="268.00" stroke="#FF3A1E" stroke-width="0.8"/>
<line x1="525.80" y1="256.00" x2="530.20" y2="256.00" stroke="#FF3A1E" stroke-width="0.8"/>
<line x1="525.80" y1="268.00" x2="530.20" y2="268.00" stroke="#FF3A1E" stroke-width="0.8"/>
<line x1="550.20" y1="236.60" x2="550.20" y2="255.40" stroke="#FF3A1E" stroke-width="0.8"/>
<line x1="548.00" y1="236.60" x2="552.40" y2="236.60" stroke="#FF3A1E" stroke-width="0.8"/>
<line x1="548.00" y1="255.40" x2="552.40" y2="255.40" stroke="#FF3A1E" stroke-width="0.8"/>
<line x1="417.00" y1="253.82" x2="417.00" y2="261.82" stroke="#333" stroke-width="0.8"/>
<line x1="414.80" y1="253.82" x2="419.20" y2="253.82" stroke="#333" stroke-width="0.8"/>
<line x1="414.80" y1="261.82" x2="419.20" y2="261.82" stroke="#333" stroke-width="0.8"/>
<line x1="439.20" y1="230.87" x2="439.20" y2="260.87" stroke="#333" stroke-width="0.8"/>
<line x1="437.00" y1="230.87" x2="441.40" y2="230.87" stroke="#333" stroke-width="0.8"/>
<line x1="437.00" y1="260.87" x2="441.40" y2="260.87" stroke="#333" stroke-width="0.8"/>
<line x1="461.40" y1="236.67" x2="461.40" y2="255.07" stroke="#333" stroke-width="0.8"/>
<line x1="459.20" y1="236.67" x2="463.60" y2="236.67" stroke="#333" stroke-width="0.8"/>
<line x1="459.20" y1="255.07" x2="463.60" y2="255.07" stroke="#333" stroke-width="0.8"/>
<line x1="483.60" y1="236.68" x2="483.60" y2="254.08" stroke="#333" stroke-width="0.8"/>
<line x1="481.40" y1="236.68" x2="485.80" y2="236.68" stroke="#333" stroke-width="0.8"/>
<line x1="481.40" y1="254.08" x2="485.80" y2="254.08" stroke="#333" stroke-width="0.8"/>
<line x1="505.80" y1="232.88" x2="505.80" y2="257.88" stroke="#333" stroke-width="0.8"/>
<line x1="503.60" y1="232.88" x2="508.00" y2="232.88" stroke="#333" stroke-width="0.8"/>
<line x1="503.60" y1="257.88" x2="508.00" y2="257.88" stroke="#333" stroke-width="0.8"/>
<line x1="528.00" y1="238.73" x2="528.00" y2="255.73" stroke="#333" stroke-width="0.8"/>
<line x1="525.80" y1="238.73" x2="530.20" y2="238.73" stroke="#333" stroke-width="0.8"/>
<line x1="525.80" y1="255.73" x2="530.20" y2="255.73" stroke="#333" stroke-width="0.8"/>
<line x1="550.20" y1="240.69" x2="550.20" y2="258.69" stroke="#333" stroke-width="0.8"/>
<line x1="548.00" y1="240.69" x2="552.40" y2="240.69" stroke="#333" stroke-width="0.8"/>
<line x1="548.00" y1="258.69" x2="552.40" y2="258.69" stroke="#333" stroke-width="0.8"/>
<polyline points="417.00,259.05 439.20,271.36 461.40,261.39 483.60,253.14 505.80,247.72 528.00,256.46 550.20,262.99" fill="none" stroke="#1E46FF" stroke-width="1.2"/>
<rect x="414.92" y="256.97" width="4.16" height="4.16" fill="#1E46FF"/>
<rect x="437.12" y="269.28" width="4.16" height="4.16" fill="#1E46FF"/>
<rect x="459.32" y="259.31" width="4.16" height="4.16" fill="#1E46FF"/>
<rect x="481.52" y="251.06" width="4.16" height="4.16" fill="#1E46FF"/>
<rect x="503.72" y="245.64" width="4.16" height="4.16" fill="#1E46FF"/>
<rect x="525.92" y="254.38" width="4.16" height="4.16" fill="#1E46FF"/>
<rect x="548.12" y="260.91" width="4.16" height="4.16" fill="#1E46FF"/>
<polyline points="417.00,260.03 439.20,261.26 461.40,270.62 483.60,256.46 505.80,252.89 528.00,262.00 550.20,246.00" fill="none" stroke="#FF3A1E" stroke-width="1.2"/>
<polygon points="417.00,257.95 419.18,261.59 414.82,261.59" fill="#FF3A1E"/>
<polygon points="439.20,259.19 441.38,262.82 437.02,262.82" fill="#FF3A1E"/>
<polygon points="461.40,268.54 463.58,272.18 459.22,272.18" fill="#FF3A1E"/>
<polygon points="483.60,254.38 485.78,258.02 481.42,258.02" fill="#FF3A1E"/>
<polygon points="505.80,250.81 507.98,254.45 503.62,254.45" fill="#FF3A1E"/>
<polygon points="528.00,259.92 530.18,263.56 525.82,263.56" fill="#FF3A1E"/>
<polygon points="550.20,243.92 552.38,247.56 548.02,247.56" fill="#FF3A1E"/>
<polyline points="417.00,257.82 439.20,245.87 461.40,245.87 483.60,245.38 505.80,245.38 528.00,247.23 550.20,249.69" fill="none" stroke="#111" stroke-width="1.2"/>
<circle cx="417.00" cy="257.82" r="2.10" fill="#111"/>
<circle cx="439.20" cy="245.87" r="2.10" fill="#111"/>
<circle cx="461.40" cy="245.87" r="2.10" fill="#111"/>
<circle cx="483.60" cy="245.38" r="2.10" fill="#111"/>
<circle cx="505.80" cy="245.38" r="2.10" fill="#111"/>
<circle cx="528.00" cy="247.23" r="2.10" fill="#111"/>
<circle cx="550.20" cy="249.69" r="2.10" fill="#111"/>
<text x="382.20" y="264.00" font-size="9.4" text-anchor="middle" font-weight="bold" fill="#000" transform="rotate(-90 382.2 264.0)">Time on Rotarod (s)</text>
<text x="480.40" y="339.31" font-size="9.2" text-anchor="middle" font-weight="bold" fill="#000">Days post-surgery</text>
<line x1="563.60" y1="221.00" x2="575.50" y2="221.00" stroke="#111" stroke-width="1.0"/>
<circle cx="569.55" cy="221.00" r="2.10" fill="#111"/>
<text x="580.80" y="224.20" font-size="9.3" text-anchor="start" font-weight="bold" fill="#000"><tspan font-style="italic">Rest</tspan> cKO (-Cre) + Sham</text>
<line x1="563.60" y1="235.20" x2="575.50" y2="235.20" stroke="#1E46FF" stroke-width="1.0"/>
<rect x="566.95" y="232.60" width="5.20" height="5.20" fill="#1E46FF"/>
<text x="579.60" y="238.40" font-size="9.3" text-anchor="start" font-weight="bold" fill="#000"><tspan font-style="italic">Rest</tspan> cKO (-Cre) + SNI</text>
<line x1="563.60" y1="249.20" x2="575.50" y2="249.20" stroke="#FF3A1E" stroke-width="1.0"/>
<polygon points="569.55,246.20 572.15,250.80 566.95,250.80" fill="#FF3A1E"/>
<text x="579.60" y="252.40" font-size="9.3" text-anchor="start" font-weight="bold" fill="#000"><tspan font-style="italic">Rest</tspan> cKO (+Cre) + SNI</text>
</g></svg>
</body></html>
